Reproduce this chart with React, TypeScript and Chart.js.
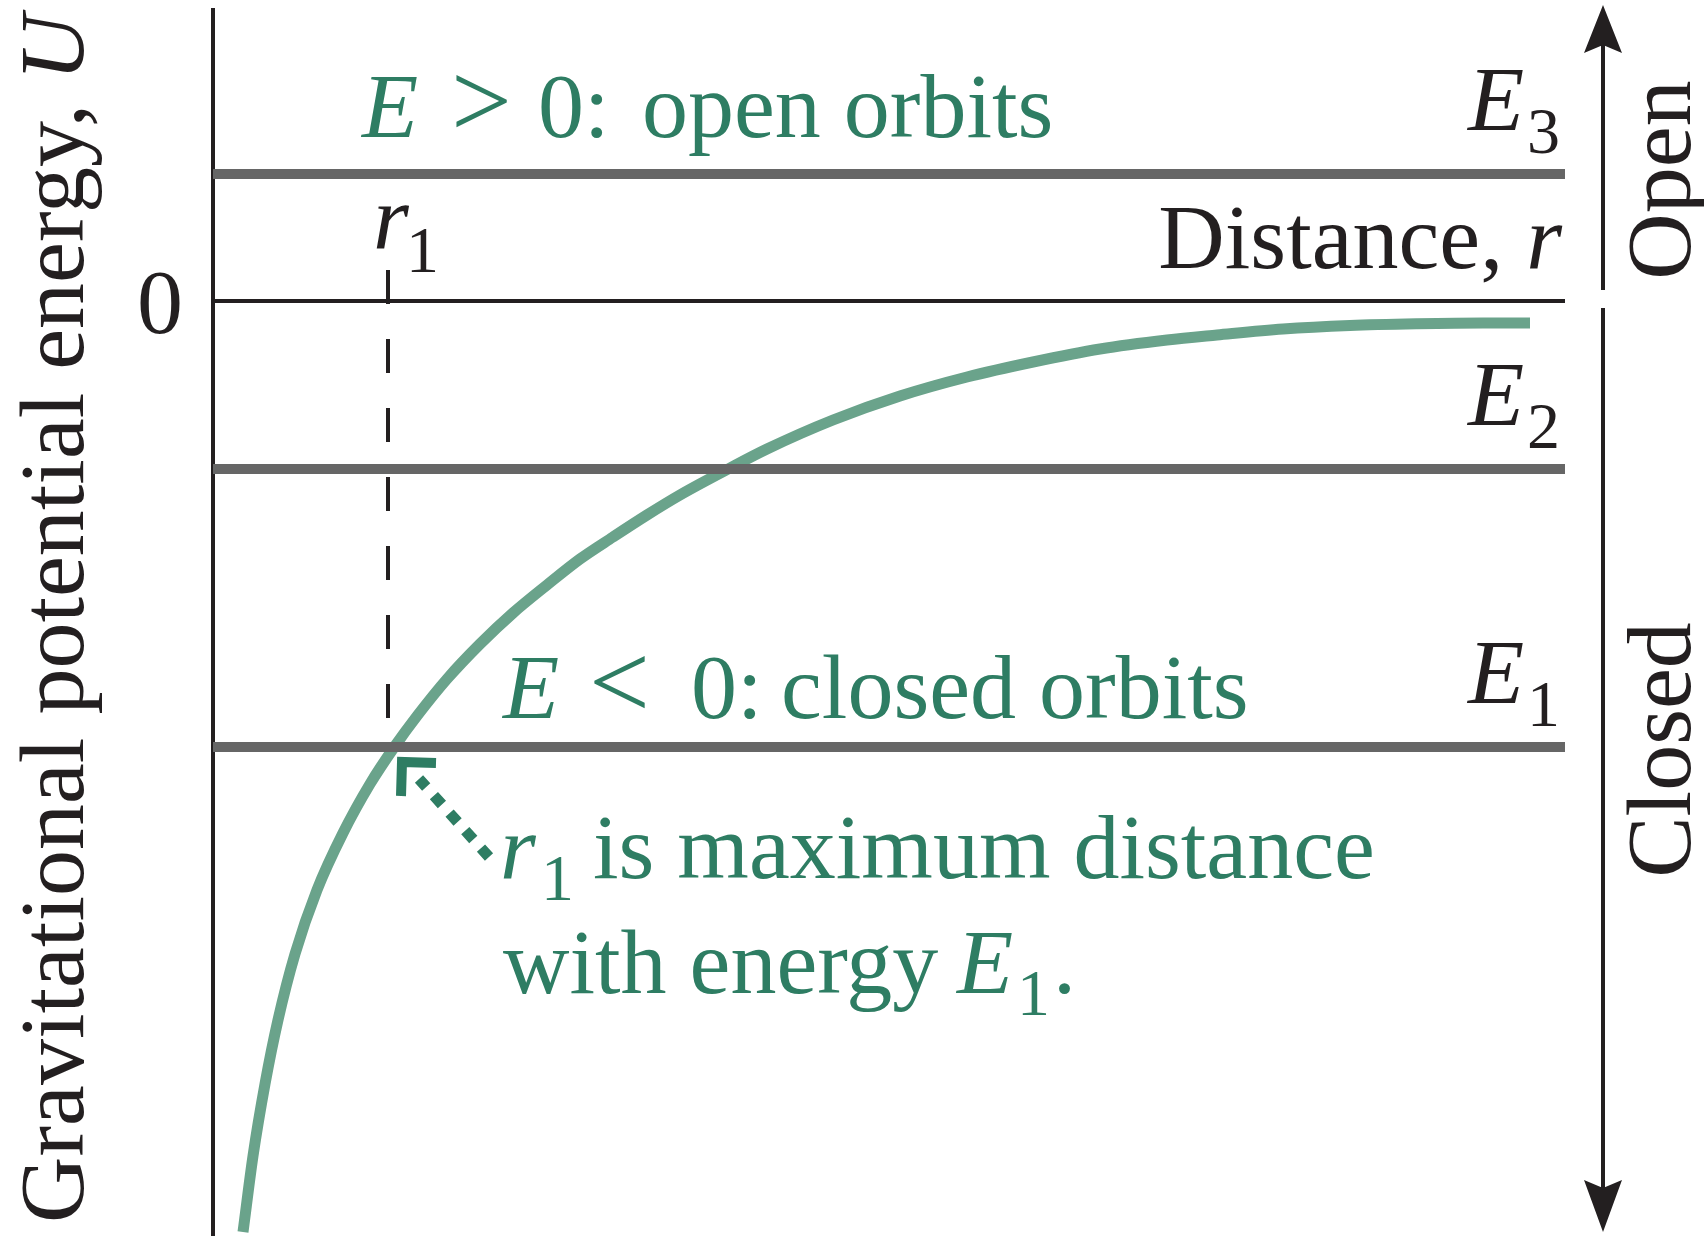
import React, { useEffect, useRef } from "react";
import { Chart, registerables } from "chart.js";

Chart.register(...registerables);

// ---- data (arbitrary units: r to the right of the U axis, U relative to 0) ----
const curveR = [0.30, 0.40, 0.52, 0.65, 0.82, 1.04, 1.30, 1.57, 1.82, 2.04, 2.34, 2.67, 3.00, 3.34, 3.67, 4.00, 4.34, 4.67, 5.17, 5.54, 6.20, 6.87, 7.54, 8.20, 8.87, 9.54, 10.04, 10.70, 11.37, 12.04, 12.70, 13.17];
const curveU = [-9.31, -8.55, -7.83, -7.19, -6.53, -5.89, -5.32, -4.83, -4.45, -4.15, -3.78, -3.43, -3.12, -2.84, -2.58, -2.36, -2.14, -1.94, -1.67, -1.48, -1.19, -0.95, -0.76, -0.61, -0.48, -0.39, -0.34, -0.28, -0.245, -0.228, -0.22, -0.22];

const energyLevels = [1.27, -1.68, -4.46];
const energySubscripts = ["3", "2", "1"];
const r1Value = 1.75;
const r1DashTop = 0.31;
const r1DashBottom = -4.17;

const rMin = 0;
const rMax = 13.52;
const uMin = -9.35;
const uMax = 2.93;

const yTitleText = "Gravitational potential energy, ";
const yTitleVar = "U";
const xTitleText = "Distance, ";
const xTitleVar = "r";
const zeroLabel = "0";
const openLabel = "Open";
const closedLabel = "Closed";
const openOrbitsText = "open orbits";
const closedOrbitsText = "closed orbits";
const noteLine1 = "is maximum distance";
const noteLine2 = "with energy ";

// ---- styles ----
const SERIF = '"Liberation Serif", "Times New Roman", serif';
const MAIN = 92;
const SUB = 66;
const REL = 108;
const BLACK = "#231f20";
const GREEN = "#2e7d63";
const GRAY = "#666666";
const CURVE = "#6aa38b";

const font = (size: number, italic = false) => `${italic ? "italic " : ""}${size}px ${SERIF}`;

function text(ctx: CanvasRenderingContext2D, s: string, x: number, y: number, f: string, color: string, align: CanvasTextAlign = "left") {
  ctx.font = f;
  ctx.fillStyle = color;
  ctx.textAlign = align;
  ctx.textBaseline = "alphabetic";
  ctx.fillText(s, x, y);
}

function filledHead(ctx: CanvasRenderingContext2D, tx: number, ty: number, dx: number, dy: number, len: number, half: number, notch: number, color: string) {
  const px = -dy, py = dx;
  ctx.beginPath();
  ctx.moveTo(tx, ty);
  ctx.lineTo(tx - dx * len + px * half, ty - dy * len + py * half);
  ctx.lineTo(tx - dx * (len - notch), ty - dy * (len - notch));
  ctx.lineTo(tx - dx * len - px * half, ty - dy * len - py * half);
  ctx.closePath();
  ctx.fillStyle = color;
  ctx.fill();
}

const annotations = {
  id: "annotations",
  afterDatasetsDraw(chart: any) {
    const ctx: CanvasRenderingContext2D = chart.ctx;
    const X = (v: number) => chart.scales.x.getPixelForValue(v);
    const Y = (v: number) => chart.scales.y.getPixelForValue(v);
    ctx.save();

    // zero label
    text(ctx, zeroLabel, X(-0.30), Y(-0.32), font(MAIN), BLACK, "right");

    // r1 tick label
    text(ctx, "r", X(1.60), Y(0.53), font(MAIN, true), BLACK);
    text(ctx, "1", X(1.93), Y(0.29), font(SUB), BLACK);

    // Distance, r
    ctx.font = font(MAIN, true);
    const rw = ctx.measureText(xTitleVar).width;
    text(ctx, xTitleVar, X(13.49), Y(0.33), font(MAIN, true), BLACK, "right");
    text(ctx, xTitleText, X(13.49) - rw, Y(0.33), font(MAIN), BLACK, "right");

    // E > 0 : open orbits
    text(ctx, "E", X(1.49), Y(1.64), font(MAIN, true), GREEN);
    text(ctx, ">", X(2.38), Y(1.64), font(REL), GREEN);
    text(ctx, "0:", X(3.25), Y(1.64), font(MAIN), GREEN);
    text(ctx, openOrbitsText, X(4.29), Y(1.64), font(MAIN), GREEN);

    // E < 0 : closed orbits
    text(ctx, "E", X(2.90), Y(-4.17), font(MAIN, true), GREEN);
    text(ctx, "<", X(3.76), Y(-4.17), font(REL), GREEN);
    text(ctx, "0:", X(4.78), Y(-4.17), font(MAIN), GREEN);
    text(ctx, closedOrbitsText, X(5.68), Y(-4.17), font(MAIN), GREEN);

    // energy level labels
    energyLevels.forEach((lvl, i) => {
      text(ctx, "E", X(12.55), Y(lvl + 0.44), font(MAIN, true), BLACK);
      text(ctx, energySubscripts[i], X(13.14), Y(lvl + 0.21), font(SUB), BLACK);
    });

    // note: r1 is maximum distance with energy E1.
    text(ctx, "r", X(2.87), Y(-5.77), font(MAIN, true), GREEN);
    text(ctx, "1", X(3.28), Y(-5.99), font(SUB), GREEN);
    text(ctx, noteLine1, X(3.80), Y(-5.77), font(MAIN), GREEN);
    text(ctx, noteLine2, X(2.90), Y(-6.92), font(MAIN), GREEN);
    text(ctx, "E", X(7.44), Y(-6.92), font(MAIN, true), GREEN);
    text(ctx, "1", X(8.04), Y(-7.14), font(SUB), GREEN);
    text(ctx, ".", X(8.40), Y(-6.92), font(MAIN), GREEN);

    // dotted green arrow
    const tailX = X(2.76), tailY = Y(-5.56);
    const endX = X(2.06), endY = Y(-4.78);
    ctx.strokeStyle = GREEN;
    ctx.lineWidth = 11;
    ctx.lineCap = "butt";
    ctx.setLineDash([12, 11.5]);
    ctx.beginPath();
    ctx.moveTo(tailX, tailY);
    ctx.lineTo(endX, endY);
    ctx.stroke();
    ctx.setLineDash([]);
    const cx = X(1.89), cy = Y(-4.61);
    ctx.lineWidth = 10;
    ctx.lineJoin = "miter";
    ctx.beginPath();
    ctx.moveTo(cx + 34, cy + 1);
    ctx.lineTo(cx, cy);
    ctx.lineTo(cx - 1, cy + 34);
    ctx.stroke();

    // right-hand arrows
    const ax = X(13.90);
    ctx.strokeStyle = BLACK;
    ctx.lineWidth = 4;
    ctx.beginPath();
    ctx.moveTo(ax, Y(0.11));
    ctx.lineTo(ax, Y(2.96) + 40);
    ctx.stroke();
    filledHead(ctx, ax, Y(2.96), 0, -1, 48, 19, 8, BLACK);
    ctx.beginPath();
    ctx.moveTo(ax, Y(-0.07));
    ctx.lineTo(ax, Y(-9.31) - 44);
    ctx.stroke();
    filledHead(ctx, ax, Y(-9.31), 0, 1, 52, 19, 8, BLACK);

    // rotated labels
    const rot = (s: string, x: number, y: number, f: string, align: CanvasTextAlign) => {
      ctx.save();
      ctx.translate(x, y);
      ctx.rotate(-Math.PI / 2);
      text(ctx, s, 0, 0, f, BLACK, align);
      ctx.restore();
    };
    rot(openLabel, X(14.77), Y(1.21), font(MAIN), "center");
    rot(closedLabel, X(14.77), Y(-4.49), font(MAIN), "center");

    // y-axis title
    ctx.save();
    ctx.translate(X(-1.30), Y(-9.22));
    ctx.rotate(-Math.PI / 2);
    text(ctx, yTitleText, 0, 0, font(MAIN), BLACK, "left");
    ctx.font = font(MAIN);
    const tw = ctx.measureText(yTitleText).width;
    text(ctx, yTitleVar, tw, 0, font(MAIN, true), BLACK, "left");
    ctx.restore();

    ctx.restore();
  },
};

export default function App() {
  const ref = useRef<HTMLCanvasElement>(null);

  useEffect(() => {
    if (!ref.current) return;
    const line = (pts: { x: number; y: number }[], color: string, width: number, extra: any = {}) => ({
      data: pts,
      showLine: true,
      borderColor: color,
      borderWidth: width,
      pointRadius: 0,
      borderCapStyle: "butt",
      clip: false,
      ...extra,
    });

    const datasets: any[] = [
      // zero line (distance axis)
      line([{ x: rMin, y: 0 }, { x: rMax, y: 0 }], BLACK, 4),
      // energy levels
      ...energyLevels.map((e) => line([{ x: rMin, y: e }, { x: rMax, y: e }], GRAY, 10)),
      // r1 tick + dashed drop line
      line([{ x: r1Value, y: r1DashTop }, { x: r1Value, y: r1DashBottom }], BLACK, 4, { borderDash: [34, 35] }),
      // U axis
      line([{ x: rMin, y: uMax }, { x: rMin, y: uMin }], BLACK, 4),
      // potential energy curve
      line(curveR.map((r, i) => ({ x: r, y: curveU[i] })), CURVE, 11, { cubicInterpolationMode: "monotone" }),
    ];

    const chart = new Chart(ref.current, {
      type: "scatter",
      data: { datasets },
      options: {
        animation: false,
        responsive: false,
        events: [],
        layout: { padding: { left: 213, right: 139, top: 8, bottom: 0 } },
        plugins: { legend: { display: false }, tooltip: { enabled: false } },
        scales: {
          x: { type: "linear", min: rMin, max: rMax, display: false },
          y: { type: "linear", min: uMin, max: uMax, display: false },
        },
      },
      plugins: [annotations],
    } as any);
    return () => chart.destroy();
  }, []);

  return (
    <div style={{ position: "absolute", left: 0, top: 0, width: 1704, height: 1236, background: "#ffffff" }}>
      <canvas ref={ref} width={1704} height={1236} style={{ display: "block" }} />
    </div>
  );
}
